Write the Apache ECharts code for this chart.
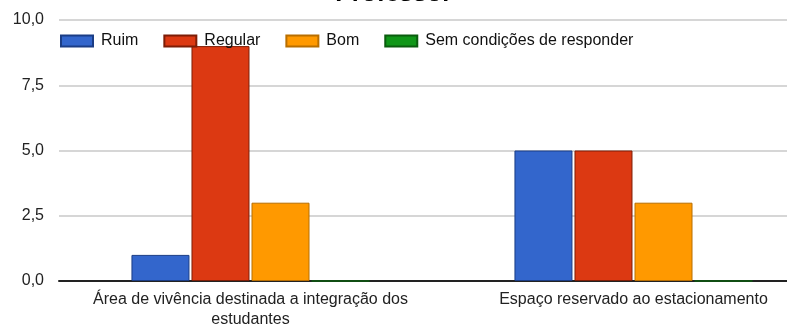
<!DOCTYPE html>
<html>
<head>
<meta charset="utf-8">
<script src="https://cdn.jsdelivr.net/npm/echarts@6/dist/echarts.min.js"></script>
<style>
  html, body { margin: 0; padding: 0; background: #fff; }
  #chart { width: 787px; height: 329px; }
</style>
</head>
<body>
<div id="chart"></div>
<script>
// Avaliação dos espaços — respostas do professor
const chartTitle = 'Professor';
const categories = [
  'Área de vivência destinada a integração dos\nestudantes',
  'Espaço reservado ao estacionamento'
];
const seriesNames = ['Ruim', 'Regular', 'Bom', 'Sem condições de responder'];
const ruim = [1, 5];
const regular = [9, 5];
const bom = [3, 3];
const semCondicoes = [0, 0];
const yTicks = { min: 0, max: 10, step: 2.5 };

const fills = ['#3366cc', '#dc3912', '#ff9900', '#109618'];
const borders = ['#1b3d85', '#7d1d06', '#b86e00', '#0a5c0e'];
const values = [ruim, regular, bom, semCondicoes];
const font = 'Liberation Sans, Arial, sans-serif';

const chart = echarts.init(document.getElementById('chart'), null, { renderer: 'canvas' });

chart.setOption({
  animation: false,
  backgroundColor: '#ffffff',
  title: {
    text: chartTitle,
    left: 'center',
    top: -23,
    textStyle: { fontFamily: font, fontSize: 25, fontWeight: 'bold', color: '#000' }
  },
  legend: {
    left: 55,
    top: 28,
    icon: 'rect',
    itemWidth: 32,
    itemHeight: 11,
    itemGap: 25,
    data: seriesNames,
    textStyle: { fontFamily: font, fontSize: 16, color: '#111', padding: [0, 0, 0, 3] }
  },
  // the plot area runs past the right edge of the canvas
  grid: { left: 59, top: 20, bottom: 48, right: -38, containLabel: false, outerBoundsMode: 'none' },
  xAxis: {
    type: 'category',
    data: categories,
    axisTick: { show: false },
    axisLine: { lineStyle: { color: '#222', width: 2 } },
    axisLabel: {
      margin: 9,
      fontFamily: font,
      fontSize: 16,
      color: '#222',
      lineHeight: 20,
      interval: 0
    }
  },
  yAxis: {
    type: 'value',
    min: yTicks.min,
    max: yTicks.max,
    interval: yTicks.step,
    axisLine: { show: false },
    axisTick: { show: false },
    splitLine: { lineStyle: { color: '#c8c8c8', width: 1.5 } },
    axisLabel: {
      margin: 15,
      fontFamily: font,
      fontSize: 16,
      color: '#222',
      formatter: v => v.toFixed(1).replace('.', ',')
    }
  },
  series: seriesNames.map((name, i) => ({
    name,
    type: 'bar',
    data: values[i],
    barWidth: 58,
    barGap: '3.5%',
    itemStyle: { color: fills[i], borderColor: borders[i], borderWidth: 1 }
  }))
});
</script>
</body>
</html>
